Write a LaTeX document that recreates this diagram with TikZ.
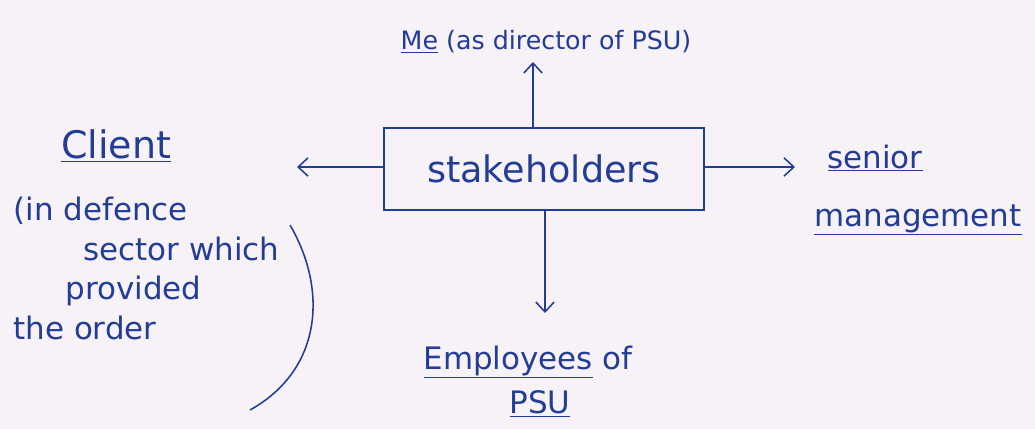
\documentclass[tikz,border=0pt]{standalone}
\usepackage{fontspec}
\setmainfont{DejaVu Sans}
\usetikzlibrary{arrows.meta}
\definecolor{ink}{RGB}{35,60,150}
\definecolor{paper}{RGB}{246,242,248}
\begin{document}
\begin{tikzpicture}[x=0.025cm,y=-0.025cm,
    line width=1.1pt, >={Straight Barb[length=7pt,width=13pt]},
    lbl/.style={text=ink, font=\fontsize{22}{28}\selectfont},
    stakebox/.style={draw=ink, line width=1.2pt, minimum width=8cm, minimum height=2.05cm,
      text=ink, font=\fontsize{26}{30}\selectfont}]
  \fill[paper] (0,0) rectangle (1035,429);
  % centre box
  \node[stakebox] (stake) at (544,169) {stakeholders};
  % the four groups
  \node[lbl, font=\fontsize{18}{20}\selectfont] (me) at (546,42) {\underline{Me} (as director of PSU)};
  \node[lbl, font=\fontsize{27}{30}\selectfont] (client) at (116,146) {\underline{Client}};
  \node[lbl, align=left, anchor=north west] (why) at (8,192)
    {(in defence\\\hspace*{1.75cm}sector which\\\hspace*{1.3cm}provided\\the order};
  \node[lbl] (senior) at (875,158) {\underline{senior}};
  \node[lbl] (mgmt) at (918,220) {\underline{management}};
  \node[lbl] (emp) at (528,362) {\underline{Employees} of};
  \node[lbl] (psu) at (540,404) {\underline{PSU}};
  % arrow ends
  \coordinate (up) at (533,62);
  \coordinate (lt) at (297,167);
  \coordinate (rt) at (795,167);
  \coordinate (dn) at (545,313);
  \draw[->, ink] (up |- stake.north) -- (up);
  \draw[->, ink] (stake.west |- lt) -- (lt);
  \draw[->, ink] (stake.east |- rt) -- (rt);
  \draw[->, ink] (dn |- stake.south) -- (dn);
  % closing bracket of the client note
  \coordinate (br1) at (290,225);
  \coordinate (br2) at (250,410);
  \draw[ink] (br1) .. controls (328,290) and (322,370) .. (br2);
\end{tikzpicture}
\end{document}
